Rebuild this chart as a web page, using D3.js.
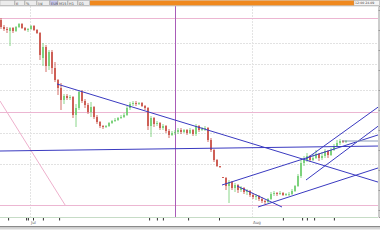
<!doctype html>
<html lang="en">
  <head>
    <meta charset="utf-8">
    <title>Price chart</title>
    <script src="https://cdn.jsdelivr.net/npm/d3@7"></script>
    <style>
      body { margin: 0; background: #fff; }
      svg { display: block; font-family: "DejaVu Sans", sans-serif; }
    </style>
  </head>
  <body>
    <script>

      // bar data (one bar per session), prices
      var open  = [1960,1946,1942,1938,1944,1938,1946,1952,1944,1940,1942,1948,1940,1934,1884,1906,1868,1896,1864,1840,1824,1800,1808,1804,1806,1770,1784,1816,1798,1790,1776,1786,1766,1756,1748,1746,1748,1754,1758,1760,1764,1766,1770,1784,1792,1794,1792,1794,1788,1784,1748,1764,1752,1754,1744,1748,1738,1730,1734,1736,1740,1736,1740,1734,1740,1732,1748,1740,1742,1744,1720,1700,1680,1668,1646,1644,1628,1636,1624,1630,1620,1624,1616,1618,1610,1606,1608,1602,1598,1596,1602,1612,1614,1612,1614,1610,1612,1612,1618,1628,1648,1674,1680,1688,1680,1684,1692,1684,1688,1698,1690,1700,1708,1714,1718,1716];
      var high  = [1964,1950,1946,1946,1946,1948,1954,1954,1946,1944,1950,1950,1942,1936,1914,1910,1900,1900,1876,1842,1834,1812,1812,1810,1808,1792,1820,1820,1802,1794,1796,1788,1770,1758,1750,1750,1756,1760,1764,1766,1770,1774,1788,1796,1798,1798,1796,1796,1790,1786,1768,1766,1758,1756,1752,1750,1742,1738,1740,1744,1744,1742,1742,1744,1742,1752,1750,1746,1748,1746,1724,1702,1682,1668,1646,1646,1640,1638,1634,1632,1628,1626,1622,1620,1614,1612,1610,1606,1600,1604,1616,1618,1616,1618,1616,1614,1616,1622,1630,1652,1680,1688,1694,1690,1692,1700,1694,1696,1702,1700,1704,1712,1720,1722,1720,1720];
      var low   = [1942,1938,1934,1908,1934,1936,1944,1942,1938,1936,1940,1938,1932,1880,1868,1856,1860,1852,1836,1810,1780,1792,1800,1800,1764,1746,1780,1794,1784,1772,1766,1762,1752,1744,1742,1744,1746,1752,1756,1758,1762,1764,1768,1780,1788,1788,1790,1786,1780,1740,1726,1746,1748,1740,1740,1734,1724,1728,1730,1732,1732,1734,1730,1732,1728,1728,1736,1738,1738,1716,1696,1676,1666,1664,1644,1620,1594,1620,1616,1614,1616,1612,1610,1606,1602,1600,1598,1594,1592,1594,1600,1608,1608,1610,1608,1608,1608,1610,1616,1626,1644,1668,1676,1676,1678,1682,1678,1680,1684,1684,1688,1698,1706,1710,1714,1714];
      var close = [1946,1942,1940,1944,1938,1946,1952,1944,1940,1942,1948,1940,1934,1890,1906,1868,1896,1864,1840,1824,1800,1808,1804,1806,1770,1784,1816,1798,1790,1776,1786,1766,1756,1748,1746,1748,1754,1758,1760,1764,1766,1770,1784,1792,1794,1792,1794,1788,1784,1748,1764,1752,1754,1744,1748,1738,1730,1734,1736,1740,1736,1740,1734,1740,1732,1748,1740,1742,1744,1720,1700,1680,1668,1666,1644,1628,1636,1624,1630,1620,1624,1616,1618,1610,1606,1608,1602,1598,1596,1602,1612,1614,1612,1614,1610,1612,1612,1618,1628,1648,1674,1680,1688,1680,1684,1692,1684,1688,1698,1690,1700,1708,1714,1718,1716,1718];

      // horizontal levels
      var pinkLevels = [1964, 1776, 1590];
      var greyLevels = [1914, 1872, 1820, 1734, 1672];

      // drawn trend lines: [bar0, price0, bar1, price1]
      var trendLines = [
        [19, 1832, 127, 1634],
        [0, 1698, 127, 1708],
        [74, 1630, 127, 1732],
        [86, 1586, 127, 1666],
        [79, 1628, 94, 1586],
        [102, 1682, 127, 1790],
        [102, 1640, 127, 1752]
      ];
      var pinkDiagonal = [0, 1798, 21.7, 1590];
      var lastPriceLine = [114, 1718, 127, 1718];

      // markers on the time axis
      var eventBars = [2.7, 8.7, 9.3, 11, 14.3, 19.7, 49.7, 52.3, 54.3, 62.7, 73, 94.3, 100.7, 102.3, 104.7, 111.3];
      var monthBars = [10, 84];
      var monthLabels = ["Jul", "Aug"];
      var cursorBar = 58.3;

      var W = 380, H = 240;
      var plotTop = 6, plotBottom = 217, plotRight = 378;

      var svg = d3.select("body").append("svg")
          .attr("width", W)
          .attr("height", H);

      var x = d3.scaleLinear().domain([0, 126]).range([0, plotRight]);
      var y = d3.scaleLinear().domain([1566, 1988]).range([plotBottom, plotTop]);

      svg.append("clipPath").attr("id", "plot")
        .append("rect").attr("x", 0).attr("y", plotTop).attr("width", plotRight).attr("height", plotBottom - plotTop);

      var plot = svg.append("g").attr("clip-path", "url(#plot)");

      // level lines
      plot.selectAll(".grey").data(greyLevels).enter().append("line")
          .attr("x1", 0).attr("x2", plotRight)
          .attr("y1", d => Math.round(y(d)) + 0.5).attr("y2", d => Math.round(y(d)) + 0.5)
          .attr("stroke", "#e2e2e2").attr("stroke-dasharray", "2,1");

      plot.selectAll(".month").data(monthBars).enter().append("line")
          .attr("x1", d => Math.round(x(d)) + 0.5).attr("x2", d => Math.round(x(d)) + 0.5)
          .attr("y1", plotTop).attr("y2", plotBottom)
          .attr("stroke", "#e4e4e4").attr("stroke-dasharray", "2,1");

      plot.selectAll(".pink").data(pinkLevels).enter().append("line")
          .attr("x1", 0).attr("x2", plotRight)
          .attr("y1", d => Math.round(y(d)) + 0.5).attr("y2", d => Math.round(y(d)) + 0.5)
          .attr("stroke", "#ecb6d2");

      plot.append("line")
          .attr("x1", x(pinkDiagonal[0])).attr("y1", y(pinkDiagonal[1]))
          .attr("x2", x(pinkDiagonal[2])).attr("y2", y(pinkDiagonal[3]))
          .attr("stroke", "#eeb0cc");

      plot.append("line")
          .attr("x1", Math.round(x(cursorBar)) + 0.5).attr("x2", Math.round(x(cursorBar)) + 0.5)
          .attr("y1", plotTop).attr("y2", plotBottom)
          .attr("stroke", "#a95cb8").attr("stroke-width", 1);

      // candles
      var bars = close.map(function(c, i) {
        return {i: i, o: open[i], h: high[i], l: low[i], c: c};
      });
      var col = d => d.c >= d.o ? "#6ccc6c" : "#c84a40";

      var candle = plot.selectAll(".bar").data(bars).enter().append("g");
      candle.append("line")
          .attr("x1", d => x(d.i) + 1).attr("x2", d => x(d.i) + 1)
          .attr("y1", d => y(d.h)).attr("y2", d => y(d.l))
          .attr("stroke", col).attr("stroke-width", 0.8);
      candle.append("rect")
          .attr("x", d => x(d.i) + 0.2)
          .attr("width", 1.6)
          .attr("y", d => y(Math.max(d.o, d.c)))
          .attr("height", d => Math.max(0.8, Math.abs(y(d.o) - y(d.c))))
          .attr("fill", col);

      // trend lines
      plot.selectAll(".trend").data(trendLines).enter().append("line")
          .attr("x1", d => x(d[0])).attr("y1", d => y(d[1]))
          .attr("x2", d => x(d[2])).attr("y2", d => y(d[3]))
          .attr("stroke", "#3a3ac0").attr("stroke-width", 1);

      plot.append("line")
          .attr("x1", x(lastPriceLine[0])).attr("y1", y(lastPriceLine[1]))
          .attr("x2", x(lastPriceLine[2])).attr("y2", y(lastPriceLine[3]))
          .attr("stroke", "#8a9ab8").attr("stroke-width", 1.2);

      // right price axis, ticks only (labels sit outside the window)
      svg.append("g")
          .attr("transform", "translate(" + (plotRight + 0.5) + ",0)")
          .call(d3.axisRight(y).tickValues(d3.range(1580, 1990, 40)).tickSize(2).tickFormat(""))
          .call(g => g.selectAll("line,path").attr("stroke", "#999"));

      // bottom time axis
      svg.append("line")
          .attr("x1", 0).attr("x2", plotRight).attr("y1", plotBottom + 0.5).attr("y2", plotBottom + 0.5)
          .attr("stroke", "#c6dcc6");

      var tAxis = svg.append("g").attr("transform", "translate(0," + (plotBottom + 1) + ")")
          .call(d3.axisBottom(x).tickValues(eventBars).tickSize(2.5).tickFormat(""));
      tAxis.select(".domain").remove();
      tAxis.selectAll("line").attr("stroke", "#333");

      svg.selectAll(".mlabel").data(monthBars).enter().append("text")
          .attr("x", d => x(d) + 1).attr("y", plotBottom + 7)
          .attr("font-size", 4).attr("fill", "#666")
          .text((d, i) => monthLabels[i]);

      // bottom status strip
      svg.append("rect").attr("x", 0).attr("y", 226).attr("width", W).attr("height", 1.5).attr("fill", "#8a8a8a");
      svg.append("rect").attr("x", 0).attr("y", 227.5).attr("width", W).attr("height", 2).attr("fill", "#d6d6d6");

      // top toolbar
      svg.append("rect").attr("x", 0).attr("y", 0).attr("width", W).attr("height", 6).attr("fill", "#d4d4d4");
      var buttons = [["", 0, 15], ["tl", 15, 10], ["%", 25, 12], ["l/d", 37, 13], ["EUR", 50, 8], ["M15", 58, 10], ["H1", 68, 10], ["D1", 78, 12]];
      var btn = svg.selectAll(".btn").data(buttons).enter().append("g")
          .attr("transform", d => "translate(" + d[1] + ",0.5)");
      btn.append("rect").attr("width", d => d[2] - 0.5).attr("height", 5)
          .attr("fill", (d, i) => i == 4 ? "#c8c8f0" : "#ececec").attr("stroke", "#9a9a9a").attr("stroke-width", 0.4);
      btn.append("text").attr("x", 1).attr("y", 4).attr("font-size", 3.5).attr("fill", "#444").text(d => d[0]);

      svg.append("rect").attr("x", 90).attr("y", 0.5).attr("width", 264).attr("height", 5).attr("fill", "#f0891e");
      svg.append("rect").attr("x", 354).attr("y", 0.5).attr("width", 25.5).attr("height", 5).attr("fill", "#f4f4f4").attr("stroke", "#999").attr("stroke-width", 0.4);
      svg.append("text").attr("x", 355).attr("y", 4.3).attr("font-size", 3.2).attr("fill", "#444").text("12:00 24.09");
      svg.append("line").attr("x1", 0).attr("x2", W).attr("y1", 6).attr("y2", 6).attr("stroke", "#b8b8b8").attr("stroke-width", 0.6);

    </script>
  </body>
</html>
